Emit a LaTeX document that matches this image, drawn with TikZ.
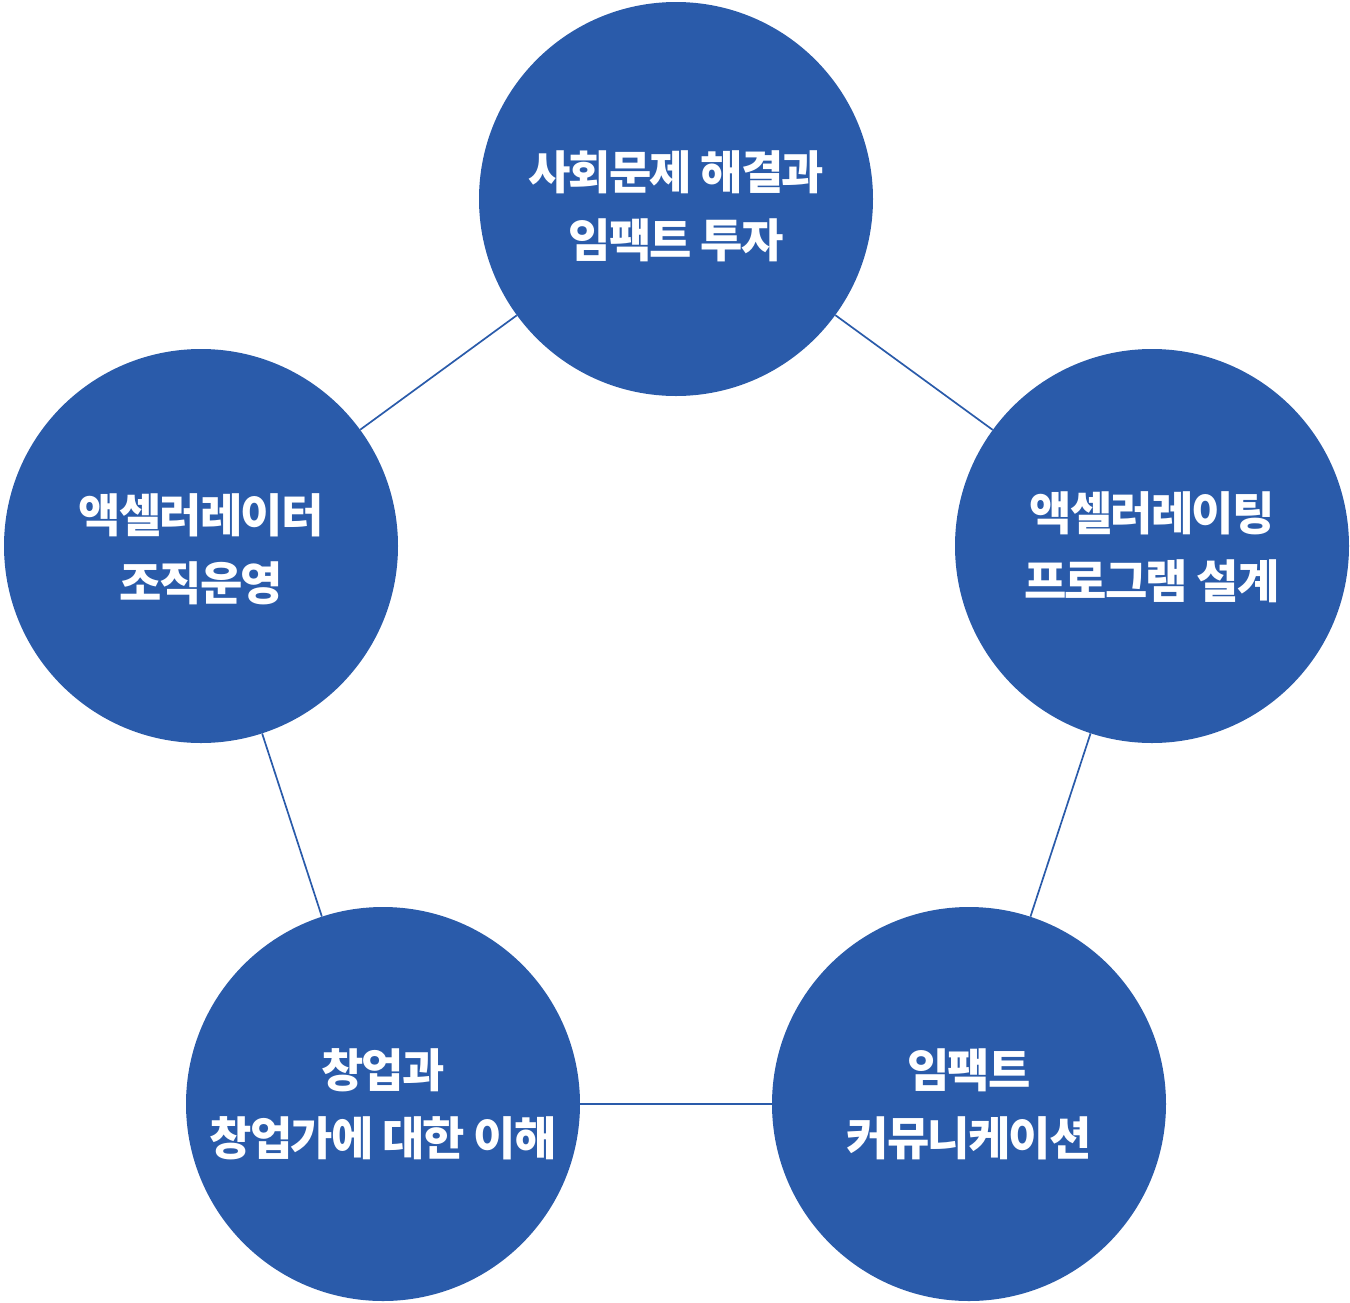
\documentclass[tikz,border=0pt]{standalone}
\usepackage{fontspec}
\newfontfamily\cjk{Noto Sans CJK KR}[LetterSpace=-4]
\definecolor{cblue}{HTML}{2A5BAA}
\tikzset{
  bubble/.style={circle, fill=cblue, draw=none, minimum size=394pt, inner sep=0pt},
  label text/.style={text=white, align=center, font=\cjk\bfseries\fontsize{46}{68}\selectfont},
  link/.style={draw=cblue, line width=1.7pt}
}
\begin{document}
\begin{tikzpicture}[x=1pt,y=-1pt]
\useasboundingbox (0,0) rectangle (1350,1302);
\node[bubble] (top) at (676,199) {};
\node[bubble] (right) at (1152,546) {};
\node[bubble] (left) at (201,546) {};
\node[bubble] (bl) at (383,1104) {};
\node[bubble] (br) at (969,1104) {};
\node[label text] (ttop) at ([yshift=-7pt]top.center) {사회문제 해결과\\임팩트 투자};
\node[label text] (tright) at ([yshift=-1pt]right.center) {액셀러레이팅\\프로그램 설계};
\node[label text] (tleft) at ([yshift=-3pt]left.center) {액셀러레이터\\조직운영};
\node[label text] (tbl) at ([yshift=0pt]bl.center) {창업과\\창업가에 대한 이해};
\node[label text] (tbr) at ([yshift=0pt]br.center) {임팩트\\커뮤니케이션};
\draw[link] (top) -- (right);
\draw[link] (right) -- (br);
\draw[link] (br) -- (bl);
\draw[link] (bl) -- (left);
\draw[link] (left) -- (top);
\end{tikzpicture}
\end{document}
